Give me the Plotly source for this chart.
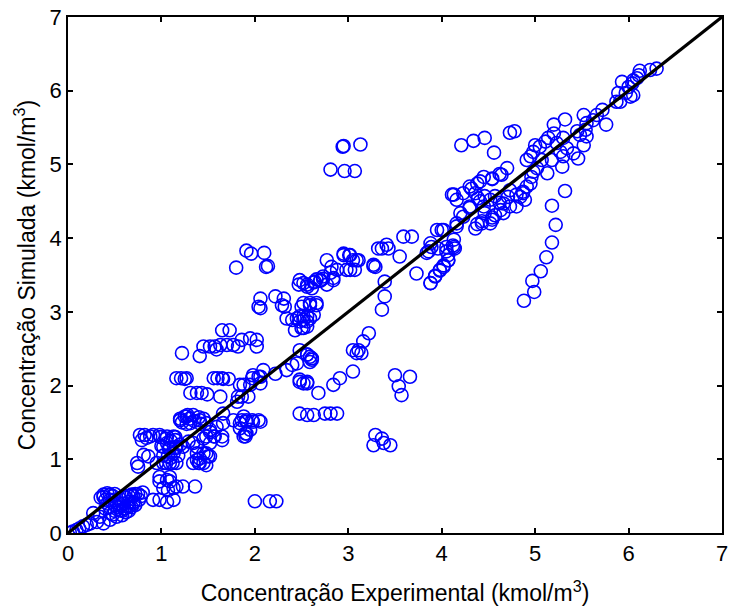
import plotly.graph_objects as go

# Experimental concentration (x) and simulated concentration (y), kmol/m3
x_exp = [
    # upper outliers
    2.94, 2.95, 3.13, 2.81, 2.96, 3.07,
    4.21, 4.34, 4.46, 4.56, 4.73, 4.78,
    # descending trail
    5.32, 5.18, 5.22, 5.18, 5.12, 5.06, 4.97, 4.99, 4.88,
    # top right
    6.30, 6.23, 6.12, 6.11, 6.09, 6.05, 6.04, 6.00, 5.93, 5.97, 5.89, 5.87, 5.91, 6.02, 6.05,
    # main band 4.1 - 5.8
    5.72, 5.66, 5.62, 5.55, 5.52, 5.45, 5.54, 5.48, 5.55, 5.52, 5.46, 5.41, 5.34, 5.30, 5.32,
    5.20, 5.20, 5.14, 5.11, 5.05, 5.00, 4.98, 4.95, 4.91, 5.23, 5.27, 5.30, 5.29, 5.13, 5.18,
    5.07, 5.02, 4.98, 4.96, 4.95, 4.91, 4.87, 4.89, 4.84, 4.80, 4.73, 4.71, 4.73, 4.66, 4.63,
    4.57, 4.54, 4.52, 4.46, 4.45, 4.39, 4.36, 4.30, 4.23, 4.13, 4.16, 4.41, 4.45, 4.54, 4.64,
    4.70, 4.30, 4.23, 4.36, 4.43, 4.66, 4.80, 4.87, 5.76,
    4.11, 4.32, 4.38, 4.54, 4.62, 4.41, 4.30, 4.20, 4.16, 4.38, 4.43, 4.54, 4.62, 4.57, 4.52, 4.46,
    # 3.3 - 4.2
    3.95, 4.00, 3.88, 3.84, 4.13, 4.13, 4.05, 4.07, 4.02, 3.98, 3.93, 3.88, 4.16,
    4.02, 3.89, 3.86, 3.96, 4.05, 4.12, 4.14, 4.07, 4.07, 4.02, 3.98, 3.93, 3.88, 3.73, 3.55,
    3.36, 3.41, 3.43, 3.59, 3.68,
    3.27, 3.29, 3.39, 3.39, 3.36,
    # 2.4 - 3.3, y 3.3 - 3.9
    2.77, 2.82, 2.88, 2.81, 2.73, 2.66, 2.63, 2.70, 2.56, 2.48, 2.95, 3.02, 3.05, 3.11, 3.07,
    3.02, 2.98, 2.84,
    2.52, 2.59, 2.66, 2.48, 2.52, 2.56, 2.52,
    3.22, 3.16, 3.11, 3.05, 3.14, 3.09, 2.48, 2.56, 2.61, 2.59,
    3.05, 2.91, 2.84, 2.68, 2.48, 2.56,
    3.50, 3.66, 3.54, 3.57,
    2.48, 2.56, 2.63, 2.75, 2.81, 2.88,
    3.29, 3.36, 3.45, 3.27, 3.38,
    # 1.8 - 3.3 upper groups
    1.91, 1.96, 2.10, 1.80, 2.12, 2.14,
    2.95, 3.01, 3.09, 3.27, 3.32,
    2.47, 2.52, 2.56, 2.64, 2.70, 2.73, 2.77, 2.84, 2.61,
    2.06, 2.04, 2.06, 2.22, 2.31, 2.29, 2.32,
    2.34, 2.40, 2.45, 2.48, 2.52, 2.56, 2.59, 2.63, 2.43, 2.50, 2.56, 2.66, 2.59, 2.50,
    1.65, 1.73,
    1.45, 1.52, 1.57, 1.63, 1.70, 1.86, 1.95, 2.02, 2.02, 1.82, 1.59, 1.77,
    1.22, 1.41,
    2.09, 2.22, 2.34, 2.40, 2.45, 2.56, 2.61, 2.59,
    2.48, 2.56, 2.52,
    1.98, 2.04, 2.06, 1.95, 1.88,
    1.82, 1.93, 1.63,
    1.16, 1.21, 1.27, 1.56, 1.60, 1.65, 1.72, 1.25, 1.66,
    1.31, 1.38, 1.43, 1.49,
    1.84, 1.97, 2.06, 1.86, 1.81,
    # 1.1 - 2.1, y 0.9 - 1.7
    1.88, 1.91, 1.98, 2.06, 1.84, 1.90, 1.88, 1.95,
    1.20, 1.27, 1.34, 1.31, 1.41, 1.48, 1.52, 1.57, 1.65, 1.45, 1.52, 1.45, 1.50, 1.41, 1.38, 1.34,
    1.20, 1.25, 1.28, 1.30, 1.22, 1.27, 1.35, 1.40, 1.45, 1.42,
    1.66, 1.77, 1.86, 1.91, 1.97, 2.04,
    1.84, 1.91, 1.90,
    1.66, 1.59, 1.52, 1.48, 1.56, 1.65,
    # 0.7 - 1.4, y 0.9 - 1.4
    0.77, 0.82, 0.88, 0.79, 0.84, 0.91,
    0.98, 1.06, 1.13, 1.15, 1.06,
    1.02, 1.09, 1.16, 1.23, 1.29, 1.34, 1.38,
    1.38, 1.41, 1.48, 1.52, 1.45, 1.40, 1.48,
    0.74, 0.81, 0.86, 0.75,
    0.95, 1.02, 1.09, 1.16, 1.07, 1.13,
    0.99, 1.05, 1.10, 1.15, 1.00, 1.08, 1.15, 1.20, 1.02, 1.10, 1.18, 1.05, 1.12,
    # 0.9 - 1.4, y 0.4 - 0.8
    0.98, 1.09, 0.98, 1.06, 1.09, 1.02, 1.07, 1.13, 1.16, 1.23, 1.36,
    0.91, 0.98, 1.06, 1.13,
    2.00, 2.16, 2.23,
    # low-left
    0.38, 0.42, 0.45, 0.48, 0.50, 0.40, 0.45, 0.50, 0.55, 0.60, 0.62, 0.65, 0.68, 0.70, 0.72,
    0.75, 0.78, 0.55, 0.60, 0.65, 0.70, 0.50, 0.55, 0.60, 0.65, 0.42, 0.45, 0.50, 0.58, 0.62,
    0.68, 0.72, 0.76, 0.80, 0.35, 0.40, 0.48, 0.52, 0.58, 0.65, 0.38,
    0.27, 0.34, 0.45, 0.56, 0.63, 0.70, 0.45, 0.38,
    0.02, 0.05, 0.09, 0.12, 0.16, 0.20, 0.24, 0.31,
]

y_sim = [
    5.24, 5.25, 5.27, 4.93, 4.91, 4.91,
    5.26, 5.32, 5.36, 5.16, 5.43, 5.45,
    4.64, 4.44, 4.18, 3.94, 3.74, 3.55, 3.42, 3.27, 3.15,
    6.30, 6.28, 6.27, 6.21, 6.17, 6.14, 6.10, 6.05, 6.12, 5.97, 5.97, 5.85, 5.85, 5.92, 5.94,
    5.74, 5.67, 5.60, 5.56, 5.67, 5.45, 5.47, 5.40, 5.38, 5.26, 5.08, 5.15, 5.22, 5.36, 5.61,
    5.54, 5.42, 5.36, 5.31, 5.24, 5.26, 5.17, 5.11, 5.06, 5.29, 5.17, 5.11, 4.97, 4.88, 5.06,
    5.06, 4.95, 4.90, 4.83, 4.74, 4.70, 4.61, 4.52, 4.56, 4.59, 4.65, 4.56, 4.43, 4.47, 4.38,
    4.31, 4.25, 4.20, 4.34, 4.43, 4.54, 4.61, 4.70, 4.61, 4.59, 4.52, 4.77, 4.83, 4.81, 4.86,
    4.95, 4.43, 4.29, 4.13, 4.20, 4.34, 4.43, 4.63, 5.54,
    4.59, 4.67, 4.74, 4.80, 4.87, 4.50, 4.41, 4.34, 4.16, 4.19, 4.23, 4.28, 4.48, 4.57, 4.52, 4.57,
    4.11, 4.11, 3.93, 3.80, 3.98, 3.88, 3.82, 3.70, 3.61, 3.57, 3.48, 3.39, 4.20,
    4.11, 3.88, 3.82, 3.86, 3.88, 3.90, 3.86, 3.77, 3.70, 3.63, 3.56, 3.49, 3.39, 3.52, 3.75,
    3.86, 3.91, 3.86, 4.02, 4.02,
    3.64, 3.61, 3.41, 3.21, 3.03,
    3.70, 3.61, 3.57, 3.53, 3.48, 3.44, 3.40, 3.42, 3.37, 3.43, 3.77, 3.77, 3.70, 3.70, 3.57,
    3.57, 3.57, 3.46,
    3.12, 3.12, 3.12, 2.94, 2.89, 2.94, 2.78,
    2.71, 2.60, 2.48, 2.48, 2.44, 2.44, 2.48, 2.42, 2.35, 2.39,
    2.19, 2.10, 2.01, 1.90, 2.05, 2.03,
    2.14, 2.12, 1.99, 1.87,
    1.62, 1.60, 1.60, 1.62, 1.62, 1.62,
    1.33, 1.28, 1.19, 1.19, 1.22,
    3.83, 3.79, 3.80, 3.60, 3.61, 3.62,
    3.79, 3.77, 3.70, 3.62, 3.86,
    3.37, 3.39, 3.34, 3.41, 3.43, 3.45, 3.37, 3.43, 3.32,
    3.18, 3.07, 3.05, 3.21, 3.18, 3.09, 3.07,
    2.91, 2.89, 2.91, 2.87, 2.94, 2.87, 2.91, 2.96, 2.75, 2.78, 2.80, 3.09, 3.09, 3.07,
    2.75, 2.75,
    2.53, 2.53, 2.53, 2.55, 2.55, 2.62, 2.64, 2.62, 2.53, 2.53, 2.49, 2.55,
    2.44, 2.40,
    2.21, 2.16, 2.21, 2.28, 2.30, 2.42, 2.37, 2.32,
    2.08, 2.05, 2.03,
    2.14, 2.12, 2.03, 2.01, 2.01,
    1.85, 1.85, 1.85,
    2.10, 2.10, 2.10, 2.10, 2.10, 2.10, 2.09, 2.09, 2.09,
    1.90, 1.90, 1.90, 1.88,
    2.01, 2.10, 2.12, 1.85, 1.78,
    1.58, 1.51, 1.51, 1.51, 1.49, 1.35, 1.31, 1.40,
    1.53, 1.58, 1.60, 1.49, 1.53, 1.49, 1.40, 1.31, 1.26, 1.28, 1.22, 1.08, 1.04, 0.95, 0.99, 0.95,
    1.55, 1.58, 1.60, 1.55, 1.50, 1.48, 1.52, 1.57, 1.55, 1.48,
    1.62, 1.53, 1.53, 1.53, 1.53, 1.53,
    1.42, 1.35, 1.31,
    1.49, 1.44, 1.37, 1.31, 1.31, 1.31,
    1.33, 1.33, 1.31, 1.26, 1.29, 1.33,
    1.33, 1.31, 1.31, 1.26, 1.22,
    1.17, 1.15, 1.17, 1.17, 1.24, 1.22, 1.17,
    1.08, 1.01, 1.08, 1.04, 0.95, 0.95, 0.92,
    0.95, 1.06, 1.04, 0.90,
    0.95, 0.95, 0.95, 0.95, 1.04, 1.08,
    1.30, 1.28, 1.25, 1.30, 1.18, 1.15, 1.15, 1.20, 1.05, 1.02, 1.05, 0.95, 0.95,
    0.76, 0.76, 0.70, 0.72, 0.70, 0.61, 0.58, 0.61, 0.63, 0.63, 0.63,
    0.45, 0.45, 0.42, 0.45,
    0.43, 0.43, 0.43,
    0.52, 0.54, 0.52, 0.50, 0.53, 0.45, 0.45, 0.45, 0.47, 0.50, 0.48, 0.50, 0.52, 0.50, 0.53,
    0.53, 0.50, 0.40, 0.40, 0.42, 0.42, 0.38, 0.35, 0.33, 0.36, 0.40, 0.35, 0.30, 0.30, 0.28,
    0.35, 0.38, 0.45, 0.55, 0.48, 0.33, 0.25, 0.22, 0.24, 0.30, 0.49,
    0.27, 0.22, 0.27, 0.31, 0.36, 0.40, 0.18, 0.13,
    0.00, 0.02, 0.04, 0.06, 0.09, 0.11, 0.13, 0.15,
]

ideal_line = [0, 7]
tick_vals = [0, 1, 2, 3, 4, 5, 6, 7]

FONT = "Liberation Sans, Arial, sans-serif"

fig = go.Figure()
fig.add_trace(go.Scatter(
    x=x_exp, y=y_sim, mode="markers",
    marker=dict(symbol="circle-open", size=13, color="#0000ff", line=dict(width=1.6, color="#0000ff")),
    showlegend=False, hoverinfo="skip",
))
fig.add_trace(go.Scatter(
    x=ideal_line, y=ideal_line, mode="lines",
    line=dict(color="black", width=3.2), showlegend=False, hoverinfo="skip",
))

axis_common = dict(
    range=[0, 7], tickvals=tick_vals, ticks="inside", ticklen=5, tickwidth=1.5,
    tickcolor="black", showline=True, linecolor="black", linewidth=1.5, mirror="ticks",
    showgrid=False, zeroline=False, automargin=False,
    tickfont=dict(family=FONT, size=22, color="black"),
)

fig.update_layout(
    width=731, height=610,
    margin=dict(l=68, r=9, t=17, b=77),
    paper_bgcolor="white", plot_bgcolor="white",
    font=dict(family=FONT, size=22, color="black"),
    xaxis=dict(**axis_common, title=dict(text="Concentração Experimental (kmol/m<sup>3</sup>)",
                                         font=dict(family=FONT, size=23), standoff=20)),
    yaxis=dict(**axis_common, title=dict(text="Concentração Simulada (kmol/m<sup>3</sup>)",
                                         font=dict(family=FONT, size=23), standoff=8)),
)

fig.write_html("out.html")
